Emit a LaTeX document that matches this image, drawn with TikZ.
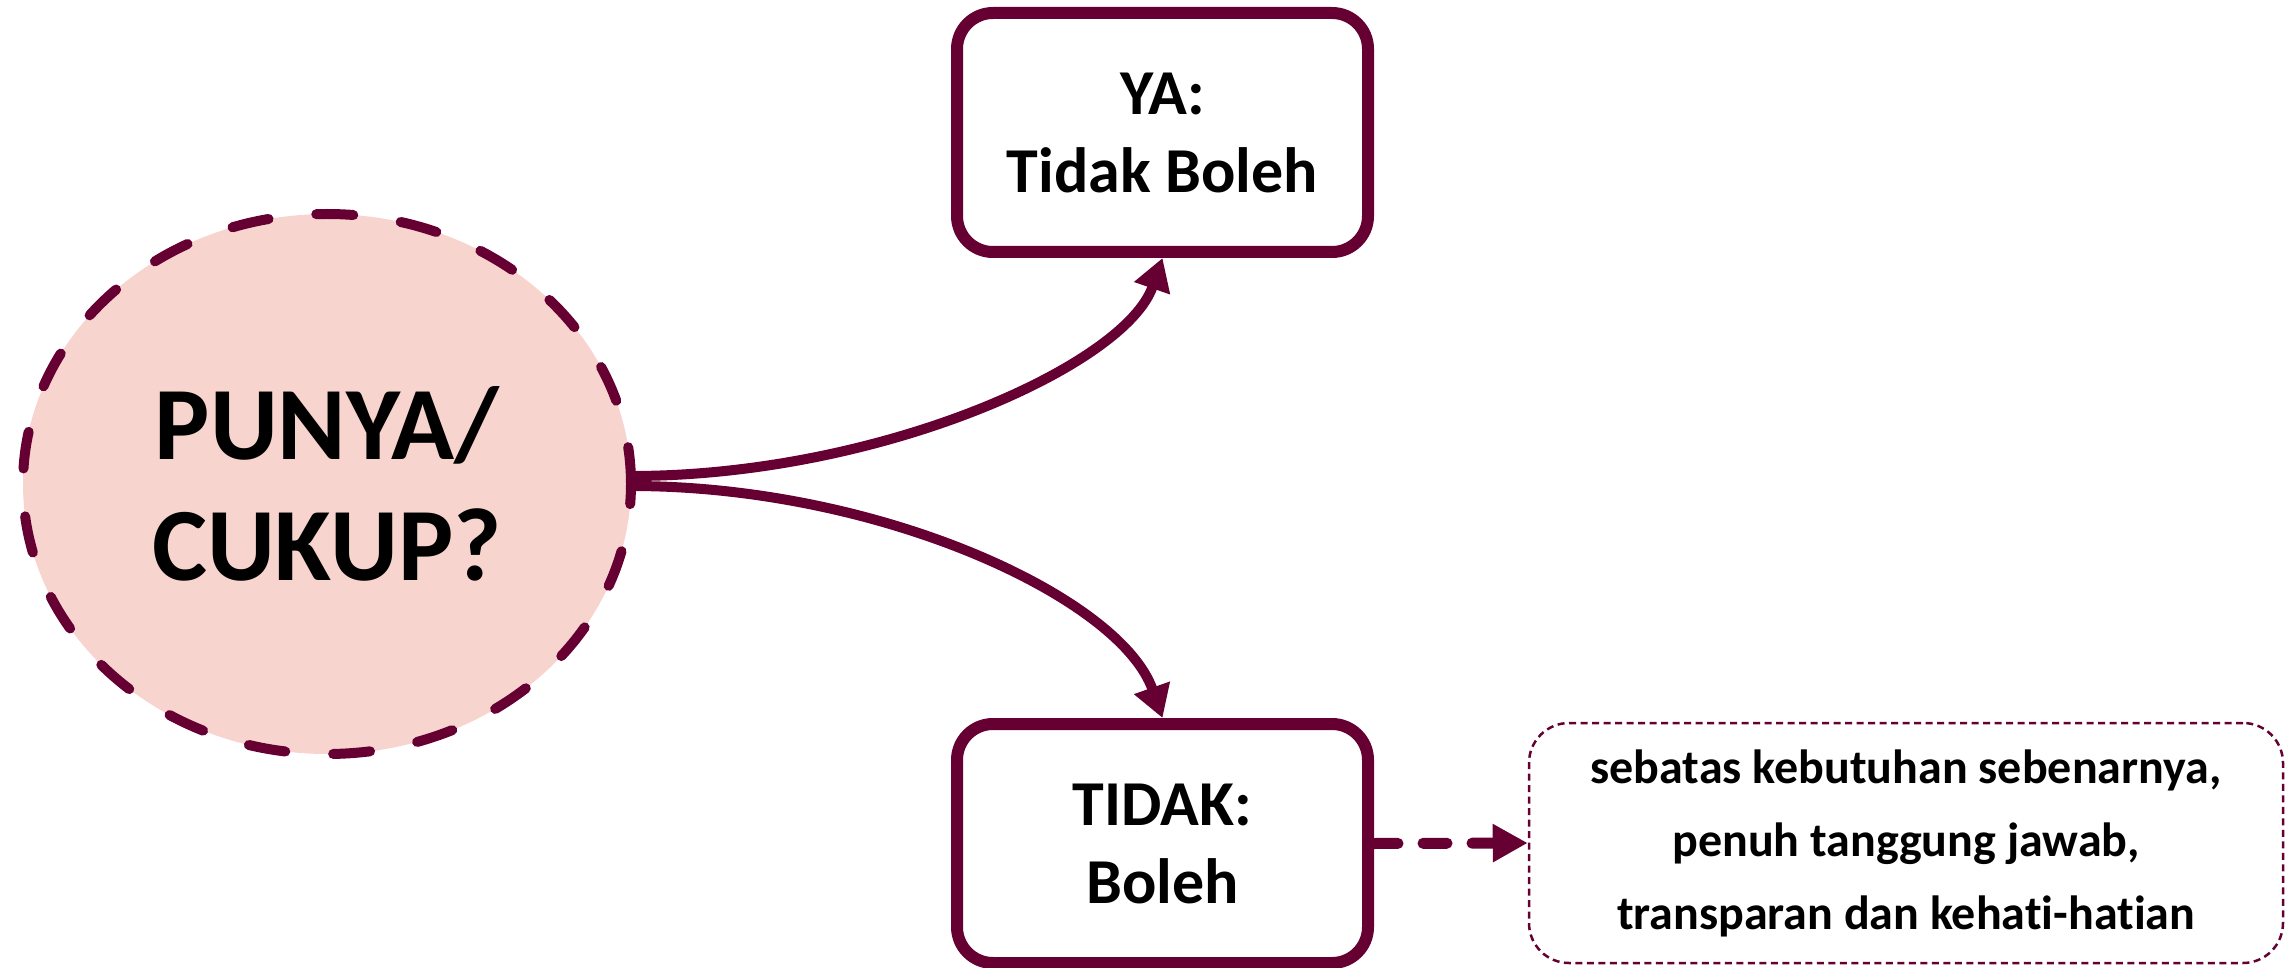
\documentclass[tikz,border=0pt]{standalone}
\usepackage{fontspec}
\setmainfont{Carlito}[Ligatures={NoCommon}]
\usetikzlibrary{shapes.geometric,arrows.meta}
\definecolor{wine}{HTML}{660033}
\definecolor{blush}{HTML}{F8D4CE}
\begin{document}
\begin{tikzpicture}[x=1pt,y=-1pt,
  question/.style={ellipse, draw=wine, fill=blush, line width=10pt,
    dash pattern=on 37pt off 48pt, line cap=round,
    minimum width=608pt, minimum height=540pt, inner sep=0pt, outer sep=0pt,
    align=center, font=\fontsize{104}{121}\selectfont\bfseries},
  answer/.style={draw=wine, line width=12pt, rounded corners=36pt, fill=white,
    minimum width=411pt, minimum height=239pt, inner sep=0pt,
    align=center, font=\fontsize{64}{78}\selectfont\bfseries},
  note/.style={draw=wine, line width=2.5pt, dash pattern=on 7pt off 4.5pt,
    rounded corners=40pt, fill=white,
    minimum width=754pt, minimum height=240pt, inner sep=0pt,
    align=center, font=\fontsize{48}{73}\selectfont\bfseries},
  conn/.style={draw=wine, line width=10pt,
    -{Triangle[length=32pt,width=36pt]}},
  dashconn/.style={draw=wine, line width=11pt, line cap=round,
    dash pattern=on 24pt off 25pt,
    -{Triangle[length=35pt,width=36pt,line cap=butt]}}
]
\useasboundingbox (0,0) rectangle (2295,968);

% decision bubble and its two outcomes
\node[question] (q) at (327,484) {PUNYA/\\CUKUP?};
\node[answer] (ya) at (1162.5,132.5) {YA:\\Tidak Boleh};
\node[answer] (tidak) at (1162.5,843.5) {TIDAK:\\Boleh};
\node[note] (cond) at (1906,843) {sebatas kebutuhan sebenarnya,\\penuh tanggung jawab,\\transparan dan kehati-hatian};

% curved branches
\draw[conn] ([yshift=8pt]q.east) .. controls +(250,0) and +(-37,107) .. (ya.south);
\draw[conn] ([yshift=-2pt]q.east) .. controls +(250,0) and +(-42,-120) .. (tidak.north);

% dashed link to the conditions
\draw[dashconn] (tidak.east) -- (cond.west);
\end{tikzpicture}
\end{document}
